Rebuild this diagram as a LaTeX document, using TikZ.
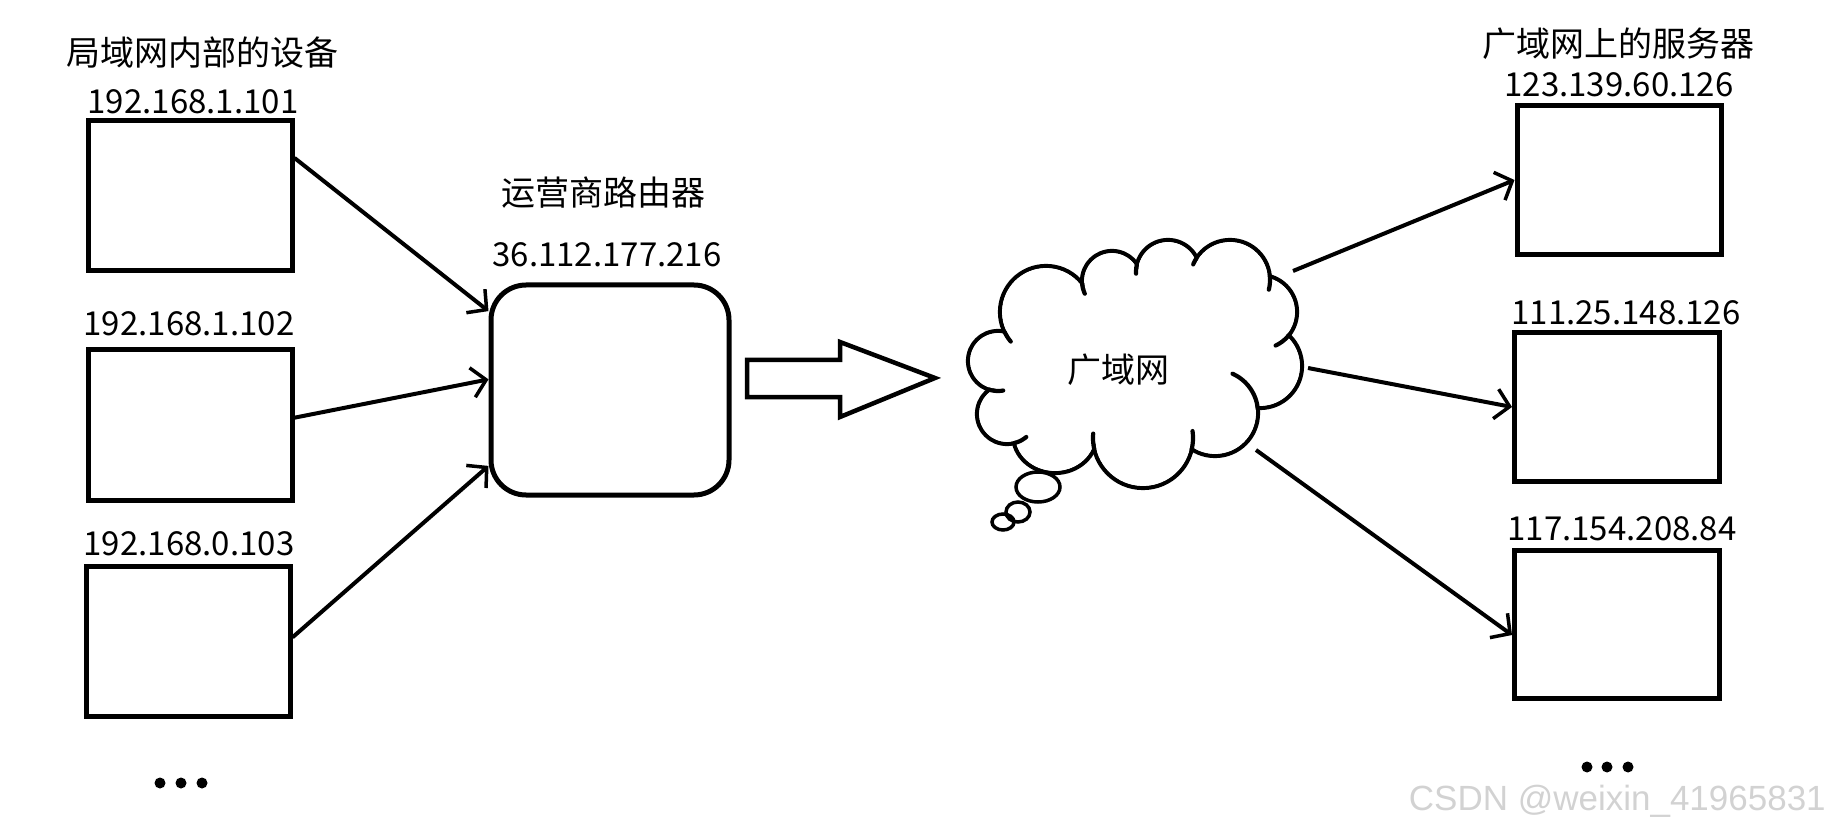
\documentclass[tikz,border=0pt]{standalone}
\usepackage{fontspec}
\setmainfont{Noto Sans CJK SC}
\newfontfamily\wmfont{Liberation Sans}
\usetikzlibrary{arrows.meta,calc}
\newcommand{\puff}[3]{\draw[cloudline] (#1,#2) circle [radius=#3];}
\newcommand{\puffwhite}[3]{\fill[white] (#1,#2) circle [radius=#3-2.1];}
\newcommand{\ctail}[5]{\draw[cloudline] plot[smooth,domain=#4:#5,samples=10] ({#1+#3*cos(\x)},{#2+#3*sin(\x)});}
\tikzset{
  box/.style={draw,line width=5pt,minimum width=204pt,minimum height=150pt,inner sep=0pt},
  cn/.style={font=\fontsize{34}{40}\selectfont,inner sep=0pt},
  ip/.style={font=\fontsize{33}{40}\selectfont,inner sep=0pt},
  conn/.style={line width=4pt,-{Straight Barb[length=14pt,width=30pt,line width=3.5pt]}},
  cloudline/.style={line width=4.2pt,line cap=round}
}
\begin{document}
\begin{tikzpicture}[x=1pt,y=-1pt]
\useasboundingbox (0,0) rectangle (1832,834);
% left devices
\node[cn] (tl) at (202,53) {局域网内部的设备};
\node[ip] (l1) at (193,102) {192.168.1.101};
\node[box] (b1) at (190,196) {};
\node[ip] (l2) at (189,324) {192.168.1.102};
\node[box] (b2) at (190,425) {};
\node[ip] (l3) at (189,544) {192.168.0.103};
\node[box] (b3) at (188,641) {};
\fill (160,783) circle (5.5) (181,783) circle (5.5) (202,783) circle (5.5);
% router
\node[cn] (tr) at (603,193) {运营商路由器};
\node[ip] (lr) at (607,255) {36.112.177.216};
\node[draw,line width=5pt,rounded corners=35pt,minimum width=238pt,minimum height=210pt] (r) at (610,390) {};
\draw[conn] (b1.20) -- (r.147);
\draw[conn] (b2.4) -- (r.175);
\draw[conn] (b3.2) -- (r.212);
% big hollow arrow
\draw[line width=4.5pt,miter limit=10] (747,360) -- (840,360) -- (840,342) -- (935,378) -- (840,417) -- (840,397) -- (747,397) -- cycle;
% cloud: union of puffs
\puff{998}{361}{30}
\puff{1007}{414}{30}
\draw[cloudline] (1055,435) ellipse [x radius=42, y radius=38];
\puff{1143}{438}{50}
\puff{1215}{413}{43}
\puff{1260}{366}{42}
\puff{1260}{312}{37}
\puff{1230}{280}{40}
\puff{1168}{272}{32}
\puff{1112}{281}{30}
\puff{1046}{312}{46}
\puffwhite{998}{361}{30}
\puffwhite{1007}{414}{30}
\fill[white] (1055,435) ellipse [x radius=39.9, y radius=35.9];
\puffwhite{1143}{438}{50}
\puffwhite{1215}{413}{43}
\puffwhite{1260}{366}{42}
\puffwhite{1260}{312}{37}
\puffwhite{1230}{280}{40}
\puffwhite{1168}{272}{32}
\puffwhite{1112}{281}{30}
\puffwhite{1046}{312}{46}
\coordinate (ctr) at (1140,360);
\fill[white] ($(1004.5,331.8)!7pt!(ctr)$) -- ($(989.4,389.7)!7pt!(ctr)$) -- ($(1014,443)!7pt!(ctr)$)
  -- ($(1094.3,449.2)!7pt!(ctr)$) -- ($(1191.8,449.1)!7pt!(ctr)$) -- ($(1257.6,407.9)!7pt!(ctr)$)
  -- ($(1288.7,335.3)!7pt!(ctr)$) -- ($(1269.8,276.4)!7pt!(ctr)$) -- ($(1196.7,257.9)!7pt!(ctr)$)
  -- ($(1136.8,264.9)!7pt!(ctr)$) -- ($(1082.1,283.4)!7pt!(ctr)$) -- cycle;
% inner tails
\ctail{998}{361}{30}{107}{80}
\ctail{1007}{414}{30}{76}{50}
\ctail{1143}{438}{50}{167}{185}
\ctail{1143}{438}{50}{13}{-8}
\ctail{1215}{413}{43}{-7}{-66}
\ctail{1260}{312}{37}{39}{65}
\ctail{1230}{280}{40}{-5}{14}
\ctail{1230}{280}{40}{213}{203}
\ctail{1168}{272}{32}{193}{177}
\ctail{1112}{281}{30}{175}{155}
\ctail{1046}{312}{46}{154.5}{140}
% thought bubbles
\draw[line width=3.5pt] (1038,487) ellipse [x radius=22, y radius=15];
\draw[line width=3.5pt] (1018,512) ellipse [x radius=12, y radius=10];
\draw[line width=3.5pt] (1003,522) ellipse [x radius=11, y radius=8];
\node[cn] (cl) at (1118,370) {广域网};
\coordinate (c1) at (1293,271);
\coordinate (c2) at (1308,368);
\coordinate (c3) at (1256,450);
% servers
\node[cn] (ts) at (1618,44) {广域网上的服务器};
\node[ip] (m1) at (1619,85) {123.139.60.126};
\node[box,minimum height=149pt] (s1) at (1619,180) {};
\node[ip] (m2) at (1626,313) {111.25.148.126};
\node[box,minimum height=148pt,minimum width=205pt] (s2) at (1617,407) {};
\node[ip] (m3) at (1622,529) {117.154.208.84};
\node[box,minimum height=148pt,minimum width=205pt] (s3) at (1617,624) {};
\fill (1587,767) circle (5.5) (1607,767) circle (5.5) (1628,767) circle (5.5);
\draw[conn] (c1) -- (s1.west);
\draw[conn] (c2) -- (s2.west);
\draw[conn] (c3) -- (s3.186);
% watermark
\node[font=\wmfont\fontsize{35}{40}\selectfont,text=gray!35,anchor=east,inner sep=0pt] (wm) at (1826,801) {CSDN @weixin\_41965831};
\end{tikzpicture}
\end{document}
